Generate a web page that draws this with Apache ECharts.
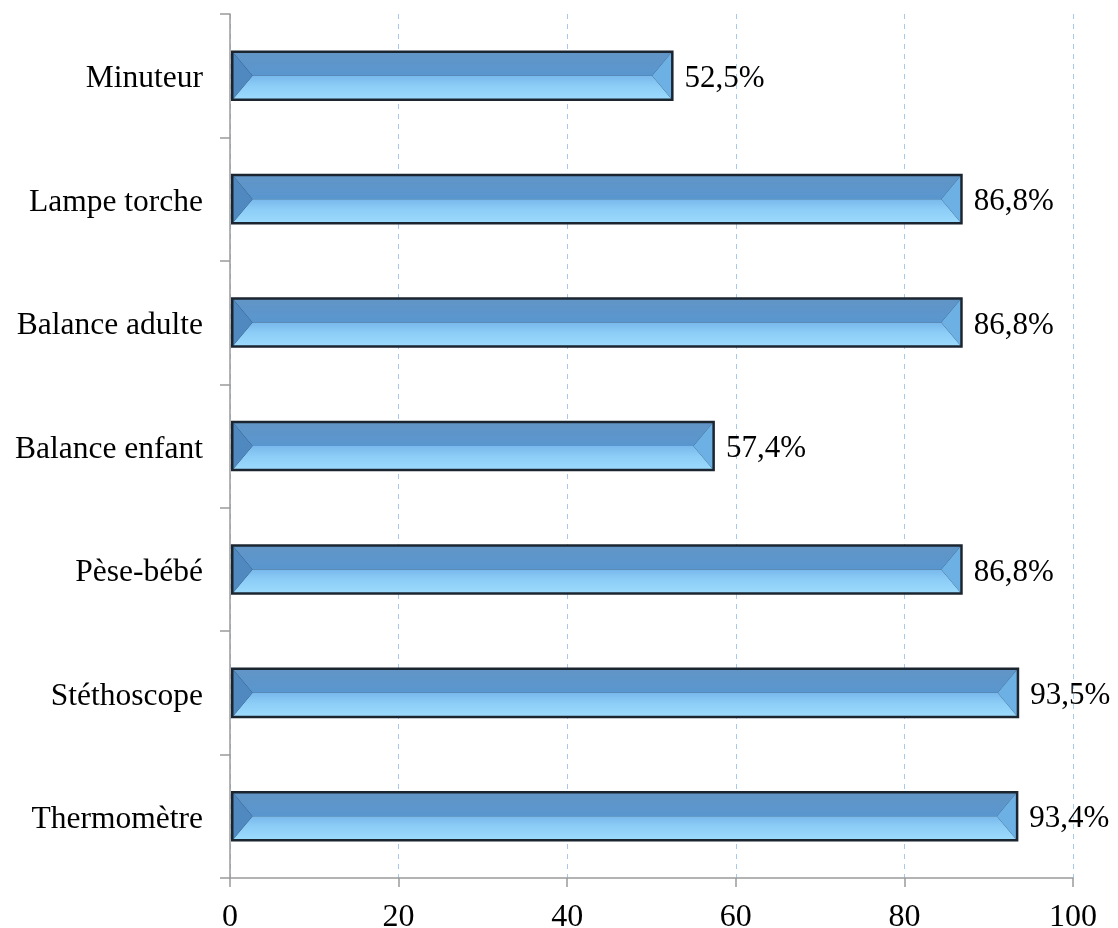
<!DOCTYPE html>
<html>
<head>
<meta charset="utf-8">
<script src="https://cdn.jsdelivr.net/npm/echarts@6/dist/echarts.min.js"></script>
<style>
  html, body { margin: 0; padding: 0; background: #fff; }
  #chart { width: 1118px; height: 928px; }
</style>
</head>
<body>
<div id="chart"></div>
<script>
// categories from bottom to top
var categories = ['Thermomètre', 'Stéthoscope', 'Pèse-bébé', 'Balance enfant', 'Balance adulte', 'Lampe torche', 'Minuteur'];
var values = [93.4, 93.5, 86.8, 57.4, 86.8, 86.8, 52.5];
var xTicks = [0, 20, 40, 60, 80, 100];

var FONT = '"Liberation Serif", "Times New Roman", serif';

function fmt(v) {
  return v.toFixed(1).replace('.', ',') + '%';
}

// bevelled bar, drawn from the axis scales
function renderBar(params, api) {
  var idx = api.value(0);
  var val = api.value(1);
  var start = api.coord([0, idx]);
  var end = api.coord([val, idx]);
  var band = api.size([0, 1])[1];
  var h = band * 0.41;
  var x0 = start[0] + 1, x1 = end[0] + 1;
  var y0 = start[1] - h / 2, y1 = start[1] + h / 2, ym = start[1];
  var b = 2.5; // border inset
  var ix0 = x0 + b, ix1 = x1 - b, iy0 = y0 + b, iy1 = y1 - b;
  var bev = 19;
  return {
    type: 'group',
    children: [
      { type: 'rect', shape: { x: x0, y: y0, width: x1 - x0, height: y1 - y0 },
        style: { fill: '#1b2530' } },
      // top face
      { type: 'polygon', shape: { points: [[ix0, iy0], [ix1, iy0], [ix1 - bev, ym], [ix0 + bev, ym]] },
        style: { fill: new echarts.graphic.LinearGradient(0, 0, 0, 1, [
          { offset: 0, color: '#6195c6' }, { offset: 1, color: '#5996cf' }]) } },
      // bottom face
      { type: 'polygon', shape: { points: [[ix0 + bev, ym], [ix1 - bev, ym], [ix1, iy1], [ix0, iy1]] },
        style: { fill: new echarts.graphic.LinearGradient(0, 0, 0, 1, [
          { offset: 0, color: '#78b8ec' }, { offset: 0.45, color: '#8ccdf7' }, { offset: 1, color: '#9bdafc' }]) } },
      // left bevel
      { type: 'polygon', shape: { points: [[ix0, iy0], [ix0 + bev, ym], [ix0, iy1]] },
        style: { fill: '#4f89c0' } },
      // right bevel
      { type: 'polygon', shape: { points: [[ix1, iy0], [ix1 - bev, ym], [ix1, iy1]] },
        style: { fill: '#6cb0e4' } },
      { type: 'text', x: x1 + 11, y: ym + 3,
        style: { text: fmt(val), fill: '#000', font: '31px ' + FONT, verticalAlign: 'middle', align: 'left' } }
    ]
  };
}

var barData = values.map(function (v, i) { return [i, v]; });

var chart = echarts.init(document.getElementById('chart'));
chart.setOption({
  animation: false,
  backgroundColor: '#fff',
  grid: { left: 230, right: 45, top: 14, bottom: 50, containLabel: false, outerBoundsMode: 'none' },
  xAxis: {
    type: 'value',
    min: 0, max: 100, interval: 20,
    axisLine: { show: true, lineStyle: { color: '#9a9a9a', width: 1.5 } },
    axisTick: { show: true, length: 9, lineStyle: { color: '#9a9a9a', width: 1.5 } },
    axisLabel: { fontFamily: FONT, fontSize: 32, color: '#000', margin: 24,
      formatter: function (v) { return xTicks.indexOf(v) >= 0 ? String(v) : ''; } },
    splitLine: { show: true, lineStyle: { color: '#a8c8ec', type: [5, 5], width: 1 } }
  },
  yAxis: {
    type: 'category',
    data: categories,
    axisLine: { show: true, lineStyle: { color: '#9a9a9a', width: 1.5 } },
    axisTick: { show: true, length: 10, lineStyle: { color: '#9a9a9a', width: 1.5 } },
    axisLabel: {
      margin: 27,
      formatter: function (v) { return '{c|' + v + '}'; },
      rich: { c: { fontFamily: FONT, fontSize: 31.5, color: '#000', padding: [7, 0, 0, 0] } }
    },
    splitLine: { show: false }
  },
  series: [{
    type: 'custom',
    renderItem: renderBar,
    encode: { x: 1, y: 0 },
    data: barData,
    z: 3
  }]
});
</script>
</body>
</html>
